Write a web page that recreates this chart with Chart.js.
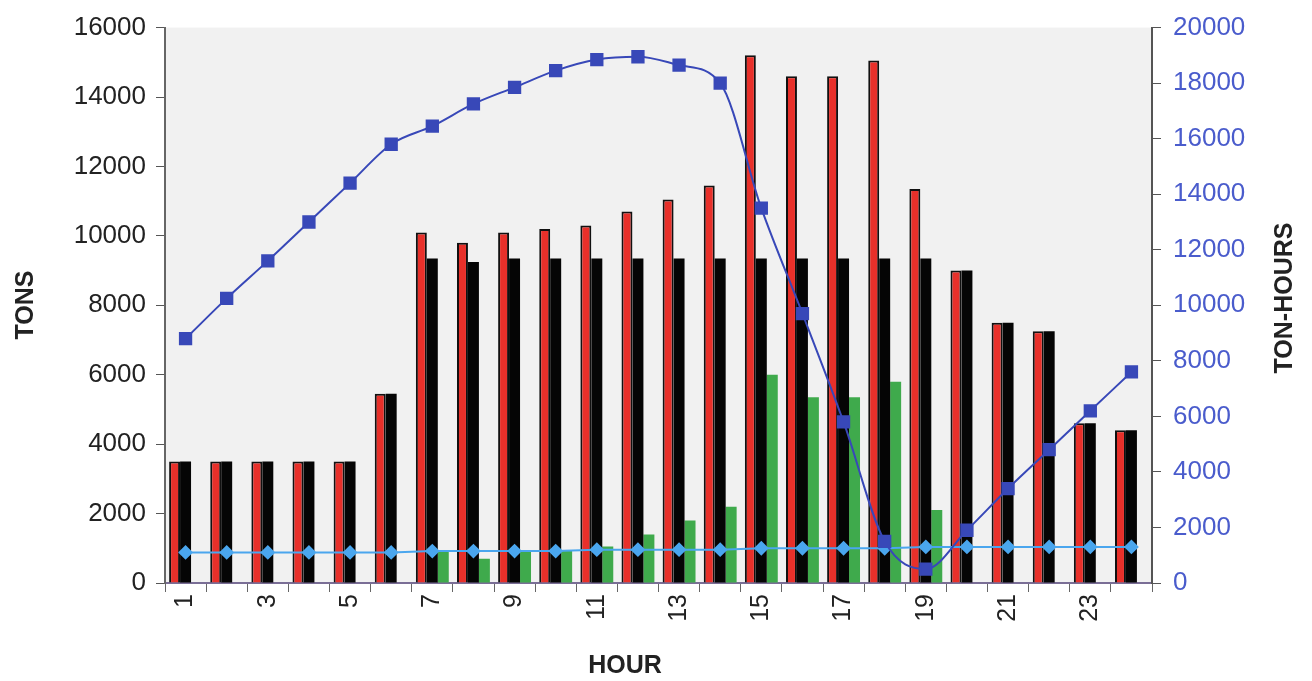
<!DOCTYPE html>
<html>
<head>
<meta charset="utf-8">
<script src="https://cdn.jsdelivr.net/npm/chart.js@4.4.1/dist/chart.umd.min.js"></script>
<style>
  body { margin: 0; background: #ffffff; }
</style>
</head>
<body>
<canvas id="barchart" width="1312" height="681"></canvas>
<script>
// hours of the day
const hours = ['1','2','3','4','5','6','7','8','9','10','11','12',
               '13','14','15','16','17','18','19','20','21','22','23','24'];

// TONS (left axis)
const redTons   = [3500, 3500, 3500, 3500, 3500, 5450, 10100, 9800, 10100, 10200, 10300, 10700,
                   11050, 11450, 15200, 14600, 14600, 15050, 11350, 9000, 7500, 7250, 4600, 4400];
const blackTons = [3500, 3500, 3500, 3500, 3500, 5450, 9350, 9250, 9350, 9350, 9350, 9350,
                   9350, 9350, 9350, 9350, 9350, 9350, 9350, 9000, 7500, 7250, 4600, 4400];
const greenTons = [0, 0, 0, 0, 0, 0, 900, 700, 950, 950, 1050, 1400,
                   1800, 2200, 6000, 5350, 5350, 5800, 2100, 0, 0, 0, 0, 0];

// TON-HOURS (right axis)
const tonHours  = [8800, 10250, 11600, 13000, 14400, 15800, 16450, 17250, 17850, 18450, 18850, 18950,
                   18650, 18000, 13500, 9700, 5800, 1500, 500, 1900, 3400, 4800, 6200, 7600];
const baseTonHours = [1100, 1100, 1100, 1100, 1100, 1100, 1150, 1150, 1150, 1150, 1200, 1200,
                      1200, 1200, 1250, 1250, 1250, 1250, 1300, 1300, 1300, 1300, 1300, 1300];

const tonsTicks = [0, 2000, 4000, 6000, 8000, 10000, 12000, 14000, 16000];
const tonHourTicks = [0, 2000, 4000, 6000, 8000, 10000, 12000, 14000, 16000, 18000, 20000];

// grey plot area + axis titles
const plotExtras = {
    id: 'plotExtras',
    beforeDraw(chart) {
        const a = chart.chartArea;
        const c = chart.ctx;
        c.save();
        c.fillStyle = '#f1f1f1';
        c.fillRect(a.left, a.top, a.right - a.left, a.bottom - a.top);
        c.restore();
    },
    afterDraw(chart) {
        const c = chart.ctx;
        c.save();
        c.fillStyle = '#222222';
        c.font = 'bold 25px "Liberation Sans", Arial, sans-serif';
        c.textAlign = 'center';
        c.textBaseline = 'middle';
        c.fillText('HOUR', 625, 666);
        c.translate(26, 305);
        c.rotate(-Math.PI / 2);
        c.fillText('TONS', 0, 0);
        c.restore();
        c.save();
        c.fillStyle = '#222222';
        c.font = 'bold 25px "Liberation Sans", Arial, sans-serif';
        c.textAlign = 'center';
        c.textBaseline = 'middle';
        c.translate(1285, 298);
        c.rotate(-Math.PI / 2);
        c.fillText('TON-HOURS', 0, 0);
        c.restore();
    }
};

var ctx = document.getElementById('barchart').getContext('2d');
var myChart = new Chart(ctx, {
    type: 'bar',
    data: {
        labels: hours,
        datasets: [{
            type: 'line',
            label: 'Ton-hours',
            data: tonHours,
            yAxisID: 'y2',
            borderColor: '#3848b8',
            backgroundColor: '#3848b8',
            borderWidth: 2,
            pointStyle: 'rect',
            pointRadius: 8,
            cubicInterpolationMode: 'monotone',
            order: 0
        }, {
            type: 'line',
            label: 'Base',
            data: baseTonHours,
            yAxisID: 'y2',
            borderColor: '#4aa6ee',
            backgroundColor: '#4aa6ee',
            borderWidth: 2,
            pointStyle: 'rectRot',
            pointRadius: 6,
            order: 0
        }, {
            label: 'Tons',
            data: redTons,
            backgroundColor: '#e8302a',
            borderColor: '#111111',
            borderWidth: 2,
            yAxisID: 'y',
            order: 1
        }, {
            label: 'Tons 2',
            data: blackTons,
            backgroundColor: '#050505',
            borderWidth: 0,
            yAxisID: 'y',
            order: 1
        }, {
            label: 'Tons 3',
            data: greenTons,
            backgroundColor: '#3faa4c',
            borderWidth: 0,
            yAxisID: 'y',
            order: 1
        }]
    },
    options: {
        responsive: false,
        animation: false,
        datasets: {
            bar: { categoryPercentage: 0.8, barPercentage: 1.0 }
        },
        layout: { padding: { top: 25, bottom: 0, left: 0, right: 0 } },
        plugins: {
            legend: { display: false },
            tooltip: { enabled: false }
        },
        scales: {
            x: {
                grid: { drawOnChartArea: false, tickLength: 9, color: '#666666' },
                border: { color: '#7a6e96', width: 2 },
                ticks: {
                    autoSkip: false,
                    minRotation: 90,
                    maxRotation: 90,
                    padding: 2,
                    color: '#222222',
                    font: { family: '"Liberation Sans", Arial, sans-serif', size: 25 },
                    callback: function(val, index) {
                        return index % 2 === 0 ? this.getLabelForValue(val) : '';
                    }
                },
                afterFit: function(scale) { scale.height = 98; }
            },
            y: {
                position: 'left',
                min: 0,
                max: 16000,
                afterBuildTicks: function(scale) {
                    scale.ticks = tonsTicks.map(v => ({ value: v }));
                },
                grid: { drawOnChartArea: false, tickLength: 9, color: '#555555' },
                border: { color: '#666666', width: 2 },
                ticks: {
                    padding: 10,
                    color: '#222222',
                    font: { family: '"Liberation Sans", Arial, sans-serif', size: 26 },
                    callback: v => String(v)
                },
                afterFit: function(scale) { scale.width = 165; }
            },
            y2: {
                position: 'right',
                min: 0,
                max: 20000,
                afterBuildTicks: function(scale) {
                    scale.ticks = tonHourTicks.map(v => ({ value: v }));
                },
                grid: { drawOnChartArea: false, tickLength: 9, color: '#555555' },
                border: { color: '#555555', width: 2 },
                ticks: {
                    padding: 12,
                    color: '#4a5ccc',
                    font: { family: '"Liberation Sans", Arial, sans-serif', size: 26 },
                    callback: v => String(v)
                },
                afterFit: function(scale) { scale.width = 160; }
            }
        }
    },
    plugins: [plotExtras]
});
</script>
</body>
</html>
